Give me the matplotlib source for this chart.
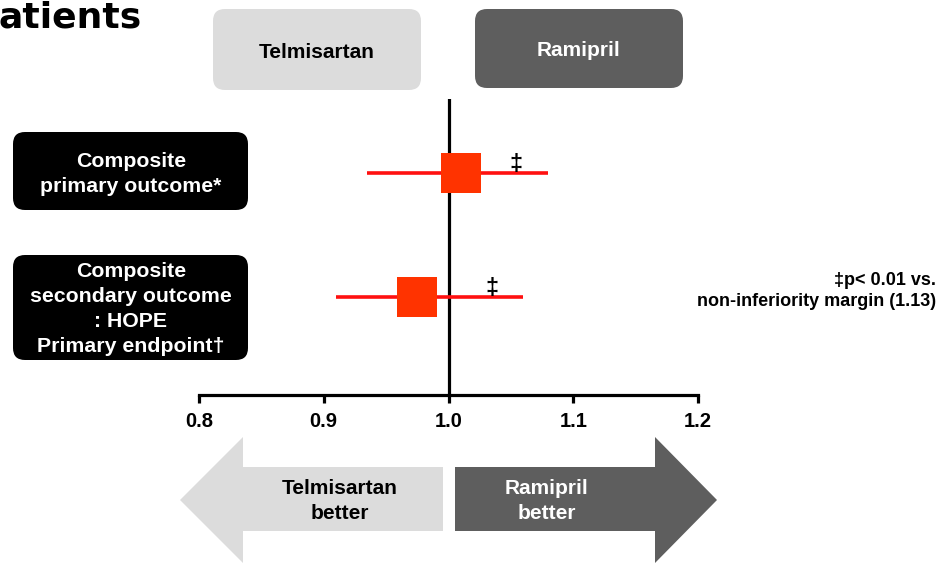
import matplotlib
matplotlib.use("Agg")
import matplotlib.pyplot as plt
from matplotlib.patches import FancyBboxPatch, Polygon

# forest plot data
outcomes = ["Composite\nprimary outcome*",
            "Composite\nsecondary outcome\n: HOPE\nPrimary endpoint\u2020"]
hr = [1.01, 0.975]
ci_low = [0.935, 0.91]
ci_high = [1.08, 1.06]
sig_marks = ["\u2021", "\u2021"]
sig_x = [1.054, 1.035]
xticks = [0.8, 0.9, 1.0, 1.1, 1.2]
xticklabels = ["0.8", "0.9", "1.0", "1.1", "1.2"]
rows = [2, 1]

W, H = 944, 563
FONT = "Liberation Sans"
LIGHT = "#dcdcdc"
DARK = "#5e5e5e"

fig = plt.figure(figsize=(W / 100, H / 100), dpi=100)

# background layer in pixel units for boxes and arrows
bg = fig.add_axes([0, 0, 1, 1])
bg.set_xlim(0, W)
bg.set_ylim(H, 0)
bg.axis("off")


def rbox(x0, y0, x1, y1, color):
    bg.add_patch(FancyBboxPatch((x0, y0), x1 - x0, y1 - y0,
                                boxstyle="round,pad=0,rounding_size=12",
                                facecolor=color, edgecolor="none"))


bg.text(-2, 28, "atients", fontsize=26, fontweight="bold",
        family="DejaVu Sans", ha="left", va="baseline")

rbox(213, 9, 421, 90, LIGHT)
bg.text(317, 52, "Telmisartan", fontsize=15, fontweight="bold",
        family=FONT, ha="center", va="center", color="black")
rbox(475, 9, 683, 88, DARK)
bg.text(579, 51, "Ramipril", fontsize=15, fontweight="bold",
        family=FONT, ha="center", va="center", color="white")

rbox(13, 132, 248, 210, "black")
rbox(13, 255, 248, 360, "black")
for lab, yc in zip(outcomes, [174, 309]):
    bg.text(131, yc, lab, fontsize=15.3, fontweight="bold", family=FONT,
            ha="center", va="center", color="white", linespacing=1.38)

bg.text(936, 291, "\u2021p< 0.01 vs.\nnon-inferiority margin (1.13)",
        fontsize=13, fontweight="bold", family=FONT,
        ha="right", va="center", linespacing=1.38)

# "better" arrows
bg.add_patch(Polygon([(443, 467), (243, 467), (243, 437), (180, 500),
                      (243, 563), (243, 531), (443, 531)],
                     closed=True, facecolor=LIGHT, edgecolor="none"))
bg.add_patch(Polygon([(455, 467), (655, 467), (655, 437), (717, 500),
                      (655, 563), (655, 531), (455, 531)],
                     closed=True, facecolor=DARK, edgecolor="none"))
bg.text(340, 501, "Telmisartan\nbetter", fontsize=15, fontweight="bold",
        family=FONT, ha="center", va="center", color="black", linespacing=1.4)
bg.text(547, 501, "Ramipril\nbetter", fontsize=15, fontweight="bold",
        family=FONT, ha="center", va="center", color="white", linespacing=1.4)

# forest axes
x0_px, x1_px, top_px, bot_px = 199, 698, 99, 395
ax = fig.add_axes([x0_px / W, (H - bot_px) / H,
                   (x1_px - x0_px) / W, (bot_px - top_px) / H])
ax.patch.set_alpha(0)
ax.set_xlim(0.8, 1.2)
ax.set_ylim(0.21, 2.597)

ax.axvline(1.0, color="black", lw=2.3, zorder=1)
ax.hlines(rows, ci_low, ci_high, color="#ff1010", lw=2.6, zorder=2)
ax.plot(hr, rows, "s", color="#ff3300", markersize=29,
        markeredgewidth=0, zorder=3)
for m, sx, r in zip(sig_marks, sig_x, rows):
    ax.annotate(m, (sx, r), xytext=(0, -2), textcoords="offset points",
                ha="center", va="bottom", fontsize=17, fontweight="bold",
                family=FONT)

for s in ["top", "right", "left"]:
    ax.spines[s].set_visible(False)
ax.spines["bottom"].set_linewidth(2.3)
ax.set_yticks([])
ax.set_xticks(xticks)
ax.set_xticklabels(xticklabels, fontsize=14.5, fontweight="bold",
                   family=FONT)
ax.tick_params(axis="x", direction="out", length=6, width=2.3, pad=6)

fig.savefig("out.png", dpi=100)
